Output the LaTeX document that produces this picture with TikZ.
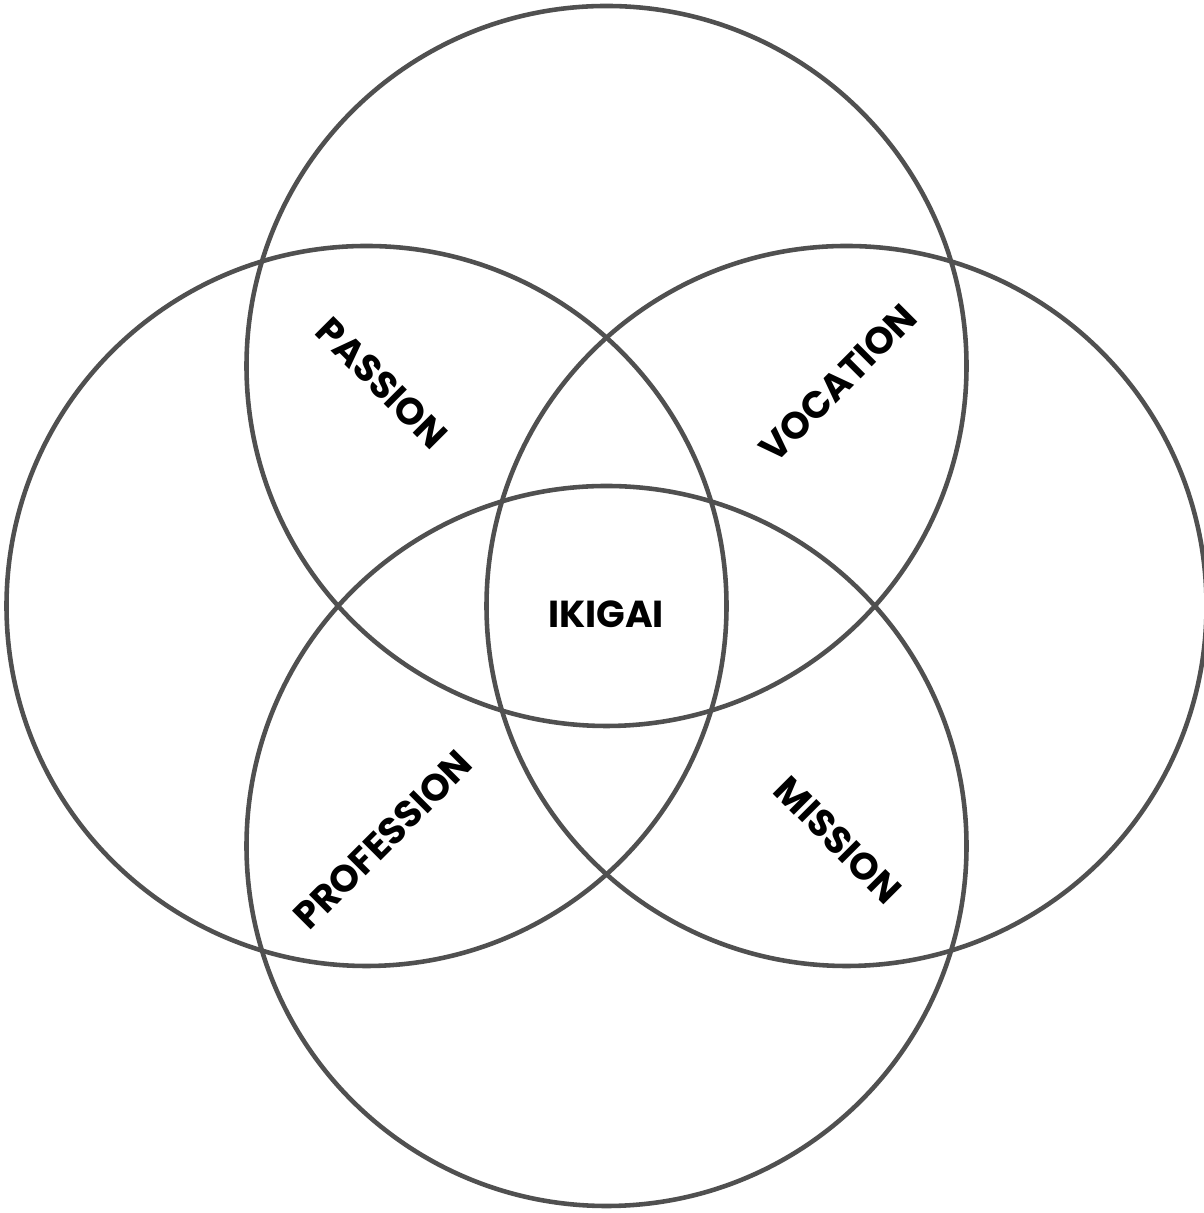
\documentclass[tikz,border=0pt]{standalone}
\usepackage{fontspec}
\setmainfont{Poppins}
\usepackage{xcolor}
\usepackage{tikz}
\usetikzlibrary{positioning}
\definecolor{ringgray}{HTML}{505050}

\begin{document}
\begin{tikzpicture}[ring/.style={draw=ringgray, line width=1.3pt}, lbl/.style={font=\bfseries\fontsize{10.7}{12}\selectfont, inner sep=0pt}]
    \useasboundingbox (0,0) rectangle (12.03,12.13);
    \coordinate (T) at (6.065,8.47);
    \coordinate (B) at (6.065,3.67);
    \coordinate (L) at (3.665,6.07);
    \coordinate (R) at (8.465,6.07);
    \draw[ring] (T) circle (3.6);
    \draw[ring] (L) circle (3.6);
    \draw[ring] (R) circle (3.6);
    \draw[ring] (B) circle (3.6);
    \node[lbl, rotate=-45] (passion)    at (3.82,8.30) {PASSION};
    \node[lbl, rotate=45]  (vocation)   at (8.38,8.30) {VOCATION};
    \node[lbl, rotate=45]  (profession) at (3.83,3.73) {PROFESSION};
    \node[lbl, rotate=-45] (mission)    at (8.38,3.73) {MISSION};
    \node[lbl]             (ikigai)     at (6.06,5.99) {IKIGAI};
  \end{tikzpicture}
\end{document}
